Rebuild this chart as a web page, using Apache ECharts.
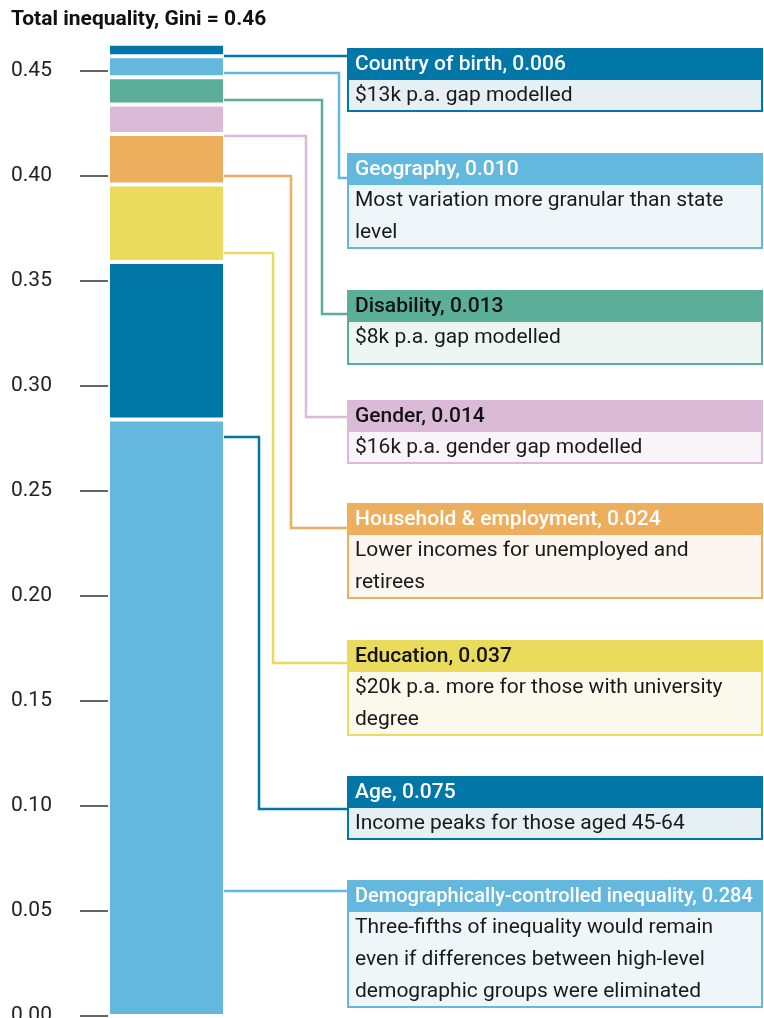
<!DOCTYPE html>
<html>
<head>
<meta charset="utf-8">
<script src="https://cdn.jsdelivr.net/npm/echarts@6/dist/echarts.min.js"></script>
<style>
html,body{margin:0;padding:0;background:#fff;}
#c{width:764px;height:1018px;}
</style>
</head>
<body>
<div id="c"></div>
<script>
// ---- data ----
const title = 'Total inequality, Gini = 0.46';
const categories = ['Demographically-controlled inequality', 'Age', 'Education', 'Household & employment', 'Gender', 'Disability', 'Geography', 'Country of birth'];
const values = [0.284, 0.075, 0.037, 0.024, 0.014, 0.013, 0.010, 0.006];
const valueLabels = ['0.284', '0.075', '0.037', '0.024', '0.014', '0.013', '0.010', '0.006'];
const notes = [
  'Three-fifths of inequality would remain\neven if differences between high-level\ndemographic groups were eliminated',
  'Income peaks for those aged 45-64',
  '$20k p.a. more for those with university\ndegree',
  'Lower incomes for unemployed and\nretirees',
  '$16k p.a. gender gap modelled',
  '$8k p.a. gap modelled',
  'Most variation more granular than state\nlevel',
  '$13k p.a. gap modelled'
];
const tickValues = [0, 0.05, 0.10, 0.15, 0.20, 0.25, 0.30, 0.35, 0.40, 0.45];

// ---- styles / layout ----
const colors = ['#65b8dd', '#0077a6', '#ebdb5c', '#edae5d', '#dbbad8', '#5baf98', '#65b8dd', '#0077a6'];
const tints  = ['#eef6fa', '#e5eff4', '#fbf9eb', '#fdf5ef', '#f9f4f8', '#eef6f3', '#eef6fa', '#e5eff4'];
const headText = ['#ffffff', '#ffffff', '#111111', '#ffffff', '#111111', '#111111', '#ffffff', '#ffffff'];
// per-box layout (index order matches categories)
const boxTops = [880, 776, 640, 503, 400, 290, 153, 48];
const bodyExtra = [0, 0, 0, 0, 0, 11, 0, 0];
const anchorVals = [0.0595, 0.2757, 0.3633, 0.400, 0.419, 0.4362, 0.449, 0.4571];
const elbowX = [300, 259, 273, 291, 306, 322, 339, 340];
const targetOff = [11, 33, 23, 25, 17, 24, 25, 8];

const FONT = 'Roboto, "Noto Sans", sans-serif';
const BAR_W = 117;
const chart = echarts.init(document.getElementById('c'), null, {renderer: 'canvas'});

const series = categories.map((name, i) => ({
  type: 'bar',
  name: name,
  stack: 'total',
  barWidth: BAR_W,
  data: [values[i]],
  itemStyle: {color: colors[i], borderColor: '#ffffff', borderWidth: 2},
  silent: true
}));

chart.setOption({
  animation: false,
  backgroundColor: '#ffffff',
  title: {
    text: title, left: 11, top: 9, padding: 0,
    textStyle: {fontFamily: FONT, fontSize: 21, fontWeight: 'bold', color: '#111'}
  },
  grid: {left: 108, right: 764 - 108 - BAR_W, top: -34, bottom: 2, containLabel: false, outerBoundsMode: 'none'},
  xAxis: {type: 'category', data: ['Gini'], show: false},
  yAxis: {
    type: 'value', min: 0, max: 0.5, interval: 0.05,
    axisLine: {show: false},
    splitLine: {show: false},
    axisTick: {show: true, length: 28, lineStyle: {color: '#333', width: 1.5}},
    axisLabel: {
      margin: 97, align: 'left', verticalAlign: 'middle', padding: [0, 0, 14, 0],
      fontFamily: FONT, fontSize: 21, color: '#222',
      formatter: v => tickValues.some(t => Math.abs(t - v) < 1e-9) ? v.toFixed(2) : ''
    }
  },
  series: series
});

// ---- annotation boxes & connectors ----
const boxLeft = 347, boxRight = 763, headH = 32, lineH = 32;
const measureCtx = document.createElement('canvas').getContext('2d');
function fitFont(text, weight, size, maxW) {
  measureCtx.font = weight + ' ' + size + 'px ' + FONT;
  const w = measureCtx.measureText(text).width;
  return w > maxW ? size * maxW / w : size;
}
const barRight = chart.convertToPixel({gridIndex: 0}, ['Gini', 0])[0] + BAR_W / 2 - 1;
const elements = [];
categories.forEach((name, i) => {
  const top = boxTops[i];
  const nLines = notes[i].split('\n').length;
  const h = headH + nLines * lineH + bodyExtra[i];
  elements.push({
    type: 'rect', z: 10,
    shape: {x: boxLeft + 1, y: top + 1, width: boxRight - boxLeft - 2, height: h - 2},
    style: {fill: tints[i], stroke: colors[i], lineWidth: 2}
  });
  elements.push({
    type: 'rect', z: 11,
    shape: {x: boxLeft, y: top, width: boxRight - boxLeft, height: headH},
    style: {fill: colors[i]}
  });
  const head = name + ', ' + valueLabels[i];
  const hs = fitFont(head, 500, 21, boxRight - boxLeft - 18);
  elements.push({
    type: 'text', z: 12, x: boxLeft + 8, y: top + headH / 2 + 1,
    style: {text: head, fill: headText[i], font: '500 ' + hs + 'px ' + FONT, verticalAlign: 'middle', align: 'left'}
  });
  elements.push({
    type: 'text', z: 12, x: boxLeft + 8, y: top + headH,
    style: {text: notes[i], fill: '#1a1a1a', font: '400 21px ' + FONT, lineHeight: lineH, verticalAlign: 'top', align: 'left'}
  });
  const sy = Math.round(chart.convertToPixel({yAxisIndex: 0}, anchorVals[i]));
  const ty = top + targetOff[i];
  const ex = elbowX[i];
  elements.push({
    type: 'polyline', z: 5,
    shape: {points: [[barRight, sy], [ex, sy], [ex, ty], [boxLeft, ty]]},
    style: {stroke: colors[i], lineWidth: 2.5, fill: null}
  });
});
chart.setOption({graphic: {elements: elements}});
</script>
</body>
</html>
